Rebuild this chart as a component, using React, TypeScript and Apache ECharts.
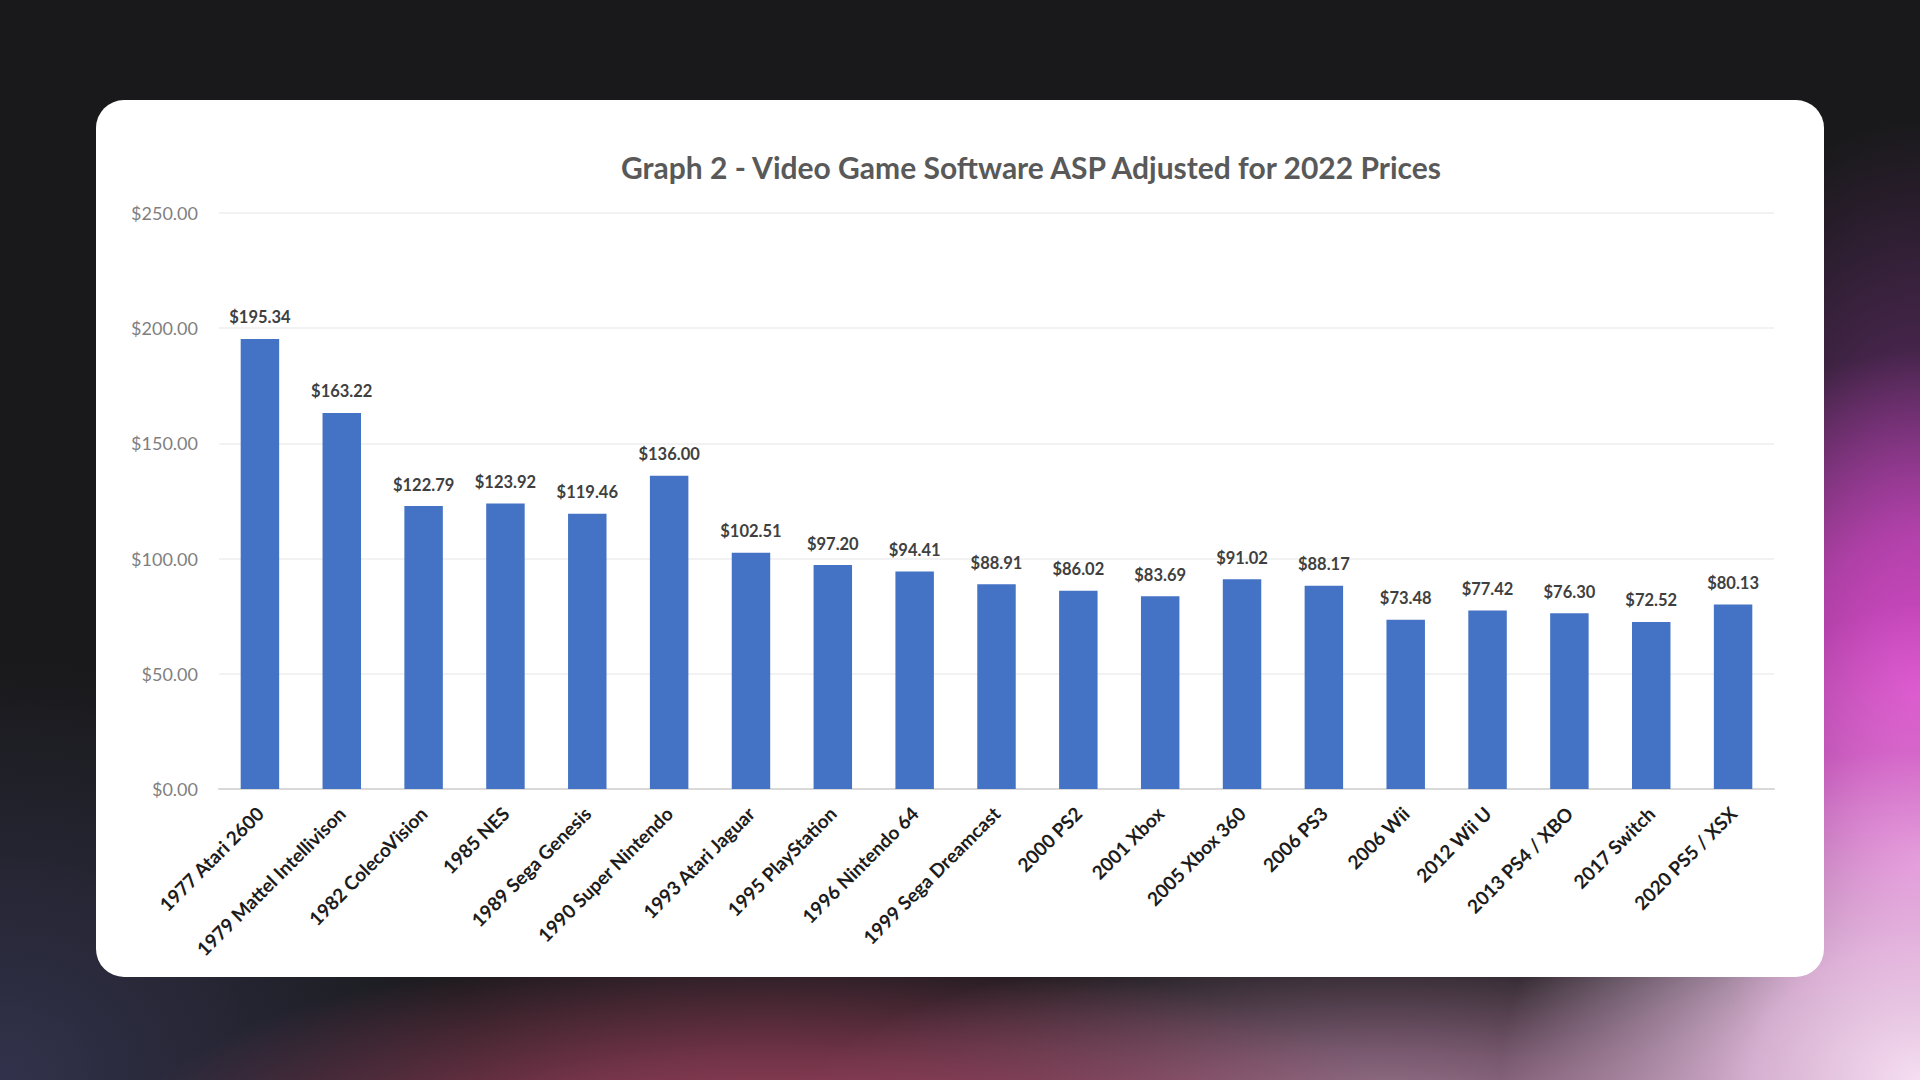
import React, { useEffect, useRef } from "react";
import * as echarts from "echarts";

const titleText = "Graph 2 - Video Game Software ASP Adjusted for 2022 Prices";

const categories = [
  "1977 Atari 2600",
  "1979 Mattel Intellivison",
  "1982 ColecoVision",
  "1985 NES",
  "1989 Sega Genesis",
  "1990 Super Nintendo",
  "1993 Atari Jaguar",
  "1995 PlayStation",
  "1996 Nintendo 64",
  "1999 Sega Dreamcast",
  "2000 PS2",
  "2001 Xbox",
  "2005 Xbox 360",
  "2006 PS3",
  "2006 Wii",
  "2012 Wii U",
  "2013 PS4 / XBO",
  "2017 Switch",
  "2020 PS5 / XSX",
];

const aspValues = [
  195.34, 163.22, 122.79, 123.92, 119.46, 136.0, 102.51, 97.2, 94.41, 88.91,
  86.02, 83.69, 91.02, 88.17, 73.48, 77.42, 76.3, 72.52, 80.13,
];

const yMin = 0;
const yMax = 250;
const yStep = 50;

const FONT = "Lato, 'Open Sans', 'DejaVu Sans', sans-serif";

export default function App() {
  const ref = useRef<HTMLDivElement>(null);

  useEffect(() => {
    if (!ref.current) return;
    const chart = echarts.init(ref.current, null, { renderer: "svg" });
    chart.setOption({
      animation: false,
      title: {
        text: titleText,
        left: 930,
        top: 47,
        textAlign: "center",
        textStyle: {
          fontFamily: FONT,
          fontSize: 30,
          fontWeight: "bold",
          color: "#595959",
        },
      },
      grid: {
        left: 123,
        right: 50,
        top: 113,
        bottom: 188,
        containLabel: false,
      },
      xAxis: {
        type: "category",
        data: categories,
        axisLine: { show: true, lineStyle: { color: "#d9d9d9", width: 2 } },
        axisTick: { show: false },
        axisLabel: {
          interval: 0,
          rotate: 45,
          margin: 21,
          fontFamily: FONT,
          fontSize: 19,
          fontWeight: "bold",
          color: "#1c1c1c",
        },
      },
      yAxis: {
        type: "value",
        min: yMin,
        max: yMax,
        interval: yStep,
        axisLine: { show: false },
        axisTick: { show: false },
        splitLine: { lineStyle: { color: "#eeeeee", width: 1.5 } },
        axisLabel: {
          margin: 21,
          fontFamily: FONT,
          fontSize: 18,
          color: "#7f7f7f",
          formatter: (v: number) => `$${v.toFixed(2)}`,
        },
      },
      series: [
        {
          type: "bar",
          data: aspValues,
          barWidth: "47%",
          itemStyle: { color: "#4472c4" },
          label: {
            show: true,
            position: "top",
            distance: 13,
            fontFamily: FONT,
            fontSize: 16.5,
            fontWeight: "bold",
            color: "#404040",
            formatter: (p: any) => `$${Number(p.value).toFixed(2)}`,
          },
        },
      ],
    });
    return () => chart.dispose();
  }, []);

  const bg = [
    "radial-gradient(ellipse 420px 330px at 100% 100%, rgba(246,222,242,1) 0%, rgba(238,196,232,0.85) 40%, rgba(238,196,232,0) 100%)",
    "radial-gradient(ellipse 220px 260px at 100% 80%, rgba(228,130,216,0.9) 0%, rgba(228,130,216,0) 100%)",
    "radial-gradient(ellipse 300px 340px at 100% 64%, rgba(218,76,204,1) 0%, rgba(205,72,192,0.75) 45%, rgba(205,72,192,0) 100%)",
    "radial-gradient(ellipse 260px 420px at 100% 50%, rgba(140,56,150,0.7), rgba(140,56,150,0) 100%)",
    "radial-gradient(ellipse 650px 200px at 40% 106%, rgba(165,70,100,1) 0%, rgba(150,62,90,0.7) 45%, rgba(150,62,90,0) 100%)",
    "radial-gradient(ellipse 620px 210px at 72% 106%, rgba(175,135,160,1) 0%, rgba(160,115,145,0.7) 45%, rgba(160,115,145,0) 100%)",
    "radial-gradient(ellipse 480px 420px at 0% 100%, rgba(50,50,76,1), rgba(50,50,76,0) 100%)",
    "#19191b",
  ].join(", ");

  return (
    <div
      style={{
        position: "fixed",
        left: 0,
        top: 0,
        width: 1920,
        height: 1080,
        background: bg,
        overflow: "hidden",
      }}
    >
      <div
        style={{
          position: "absolute",
          left: 96,
          top: 100,
          width: 1728,
          height: 877,
          background: "#ffffff",
          borderRadius: 28,
          overflow: "hidden",
        }}
      >
        <div ref={ref} style={{ width: 1728, height: 877 }} />
      </div>
    </div>
  );
}
